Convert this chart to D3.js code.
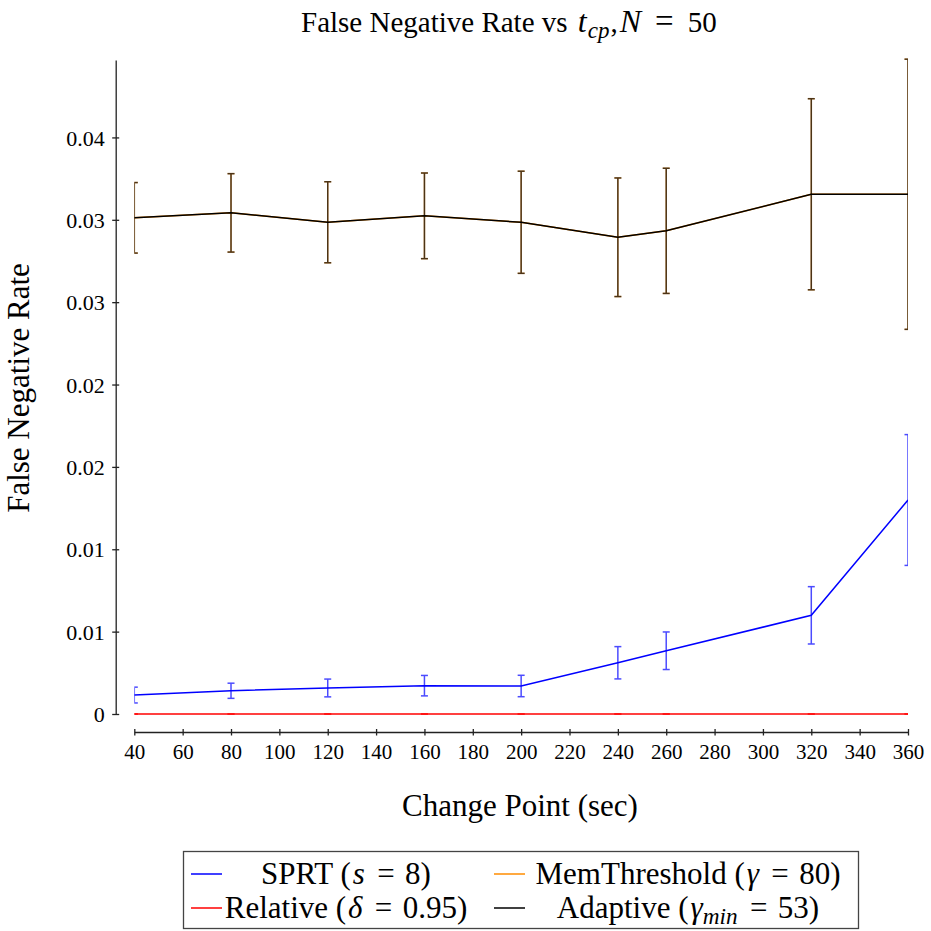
<!DOCTYPE html>
<html>
<head>
<meta charset="utf-8">
<script src="https://cdn.jsdelivr.net/npm/d3@7"></script>
<style>
body { margin: 0; background: #fff; }
svg text { font-family: "Liberation Serif", "Times New Roman", serif; fill: #000; }
</style>
</head>
<body>
<svg id="chart" width="931" height="931"></svg>
<script>
// change points (sec)
var changePoints = [40, 80, 120, 160, 200, 240, 260, 320, 360];

// false negative rate, mean and error per method
var sprtMean = [0.00115, 0.00141, 0.00158, 0.00172, 0.00170, 0.00311, 0.00384, 0.00599, 0.01299];
var sprtErr = [0.00048, 0.00046, 0.00054, 0.00062, 0.00065, 0.00098, 0.00114, 0.00174, 0.00397];
var relativeMean = [0, 0, 0, 0, 0, 0, 0, 0, 0];
var relativeErr = [0, 0, 0, 0, 0, 0, 0, 0, 0];
var memMean = [0.03012, 0.03042, 0.02985, 0.03024, 0.02985, 0.02894, 0.02933, 0.03155, 0.03155];
var memErr = [0.00214, 0.00238, 0.00246, 0.00260, 0.00310, 0.00360, 0.00380, 0.00580, 0.00820];
var adaptiveMean = [0.03012, 0.03042, 0.02985, 0.03024, 0.02985, 0.02894, 0.02933, 0.03155, 0.03155];
var adaptiveErr = [0.00214, 0.00238, 0.00246, 0.00260, 0.00310, 0.00360, 0.00380, 0.00580, 0.00820];

// ticks
var xTicks = [40, 60, 80, 100, 120, 140, 160, 180, 200, 220, 240, 260, 280, 300, 320, 340, 360];
var yTicks = [0, 0.005, 0.01, 0.015, 0.02, 0.025, 0.03, 0.035];
var yTickLabels = ["0", "0.01", "0.01", "0.02", "0.02", "0.03", "0.03", "0.04"];

var svg = d3.select("#chart");
var plot = {left: 134.3, right: 908, top: 60, bottom: 714};

var x = d3.scaleLinear().domain([40, 360]).range([plot.left, plot.right]);
var y = d3.scaleLinear().domain([0, 0.0397]).range([plot.bottom, plot.top]);

svg.append("defs").append("clipPath").attr("id", "clip")
    .append("rect")
    .attr("x", plot.left)
    .attr("y", plot.top - 3)
    .attr("width", plot.right - plot.left)
    .attr("height", plot.bottom - plot.top + 10);

// axes, offset from the plot area
var xAxis = svg.append("g")
    .attr("transform", "translate(0,732)")
    .call(d3.axisBottom(x).tickValues(xTicks).tickSizeOuter(0).tickFormat(d => d));
xAxis.selectAll(".tick line").attr("y1", -3).attr("y2", 3.5);
xAxis.selectAll(".tick text").attr("y", 27).attr("dy", null).style("font-size", "21px");

var yAxis = svg.append("g")
    .attr("transform", "translate(115.7,0)")
    .call(d3.axisLeft(y).tickValues(yTicks).tickSizeOuter(0).tickFormat((d, i) => yTickLabels[i]));
yAxis.selectAll(".tick line").attr("x1", 3.5).attr("x2", -3.5);
yAxis.selectAll(".tick text").attr("x", -11).attr("dy", "0.35em").style("font-size", "22px");

svg.selectAll(".domain, .tick line").attr("stroke", "#222").attr("stroke-width", 1.3);

var plotArea = svg.append("g").attr("clip-path", "url(#clip)");

function drawSeries(means, errs, color) {
    var g = plotArea.append("g");
    var bars = g.selectAll("g")
        .data(changePoints)
        .enter()
        .append("g")
        .attr("opacity", 0.7)
        .attr("stroke", color)
        .attr("stroke-width", 1.5);
    bars.append("line")
        .attr("x1", d => x(d)).attr("x2", d => x(d))
        .attr("y1", (d, i) => y(means[i] + errs[i]))
        .attr("y2", (d, i) => y(means[i] - errs[i]));
    bars.append("line")
        .attr("x1", d => x(d) - 3.5).attr("x2", d => x(d) + 3.5)
        .attr("y1", (d, i) => y(means[i] + errs[i]))
        .attr("y2", (d, i) => y(means[i] + errs[i]));
    bars.append("line")
        .attr("x1", d => x(d) - 3.5).attr("x2", d => x(d) + 3.5)
        .attr("y1", (d, i) => y(means[i] - errs[i]))
        .attr("y2", (d, i) => y(means[i] - errs[i]));

    var line = d3.line()
        .x(d => x(d))
        .y((d, i) => y(means[i]));
    g.append("path")
        .datum(changePoints)
        .attr("d", line)
        .attr("fill", "none")
        .attr("stroke", color)
        .attr("stroke-width", 1.5);
}

drawSeries(sprtMean, sprtErr, "#0000ff");
drawSeries(relativeMean, relativeErr, "#ff0000");
drawSeries(memMean, memErr, "#ff8c00");
drawSeries(adaptiveMean, adaptiveErr, "#000000");

// text with math bits: [text, style, dx]; style "i" italic, "sub" subscript, "after" back to baseline
function richText(sel, parts) {
    parts.forEach(function(p) {
        var t = sel.append("tspan").text(p[0]);
        if (p[1] == "i") t.style("font-style", "italic");
        if (p[1] == "sub") t.style("font-style", "italic").style("font-size", "0.75em").attr("dy", "0.25em");
        if (p[1] == "after") t.attr("dy", "-0.19em");
        if (p[2]) t.attr("dx", p[2]);
    });
}

var eq = "\u2004=\u2004";

var title = svg.append("text")
    .attr("x", 301).attr("y", 32)
    .style("font-size", "29px");
richText(title, [["False Negative Rate vs "], ["t", "i", 3], ["cp", "sub", 1], [",", "after", 1], ["N", "i", 2], [eq, "", 3], ["50", "", 3]]);
// math glyphs a little larger, like the TeX original
title.selectAll("tspan").filter((d, i) => i == 1 || i == 4).style("font-size", "32px");
title.selectAll("tspan").filter((d, i) => i == 2).style("font-size", "23px");
title.selectAll("tspan").filter((d, i) => i == 5).style("font-size", "33px");

svg.append("text")
    .attr("x", 520).attr("y", 816)
    .attr("text-anchor", "middle")
    .style("font-size", "31px")
    .text("Change Point (sec)");

svg.append("text")
    .attr("transform", "translate(29,388) rotate(-90)")
    .attr("text-anchor", "middle")
    .style("font-size", "31px")
    .text("False Negative Rate");

// legend
var legendItems = [
    {parts: [["SPRT ("], ["s", "i", 2], [eq, "", 2], ["8)"]], color: "#0000ff", col: 0, row: 0},
    {parts: [["Relative ("], ["δ", "i", 2], [eq, "", 2], ["0.95)"]], color: "#ff0000", col: 0, row: 1},
    {parts: [["MemThreshold ("], ["γ", "i", 2], [eq, "", 2], ["80)"]], color: "#ff8c00", col: 1, row: 0},
    {parts: [["Adaptive ("], ["γ", "i", 2], ["min", "sub"], [eq, "after", 2], ["53)"]], color: "#000000", col: 1, row: 1}
];
var legendCols = [{hx: 191, tx: 346}, {hx: 494, tx: 688}];
var legendRows = [874, 908];

var legend = svg.append("g");
legend.append("rect")
    .attr("x", 183.5).attr("y", 851.5)
    .attr("width", 675).attr("height", 77)
    .attr("fill", "#fff")
    .attr("stroke", "#444")
    .attr("stroke-width", 1.3);

legendItems.forEach(function(item) {
    var c = legendCols[item.col], ry = legendRows[item.row];
    legend.append("line")
        .attr("x1", c.hx).attr("x2", c.hx + 31)
        .attr("y1", ry).attr("y2", ry)
        .attr("stroke", item.color)
        .attr("stroke-width", 1.5);
    var t = legend.append("text")
        .attr("x", c.tx).attr("y", ry + 10)
        .attr("text-anchor", "middle")
        .style("font-size", "31px");
    richText(t, item.parts);
});
</script>
</body>
</html>
